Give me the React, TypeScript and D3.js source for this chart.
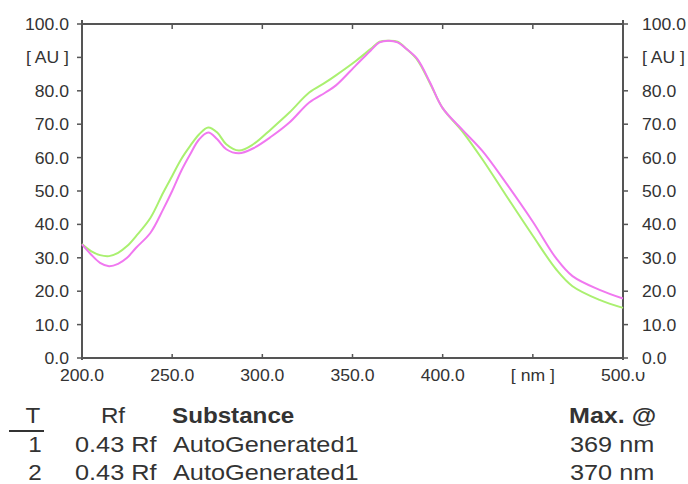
import React from "react";
import * as d3 from "d3";

const wavelengths = [200,205,210,215,220,225,230,238,245,250,255,260,265,270,275,280,287,295,305,315,326,335,341,352,360,365,370,375,380,386,393,400,411,422,435,450,463,472,487,500];
const greenTrack = [34.1,32.0,30.8,30.5,31.5,33.5,36.5,42.0,49.5,54.5,59.5,63.5,67.0,69.0,67.5,64.0,62.1,64.0,68.6,73.5,79.5,82.5,84.7,89.0,92.5,94.7,95.0,94.7,92.5,89.2,82.2,74.8,67.8,59.5,48.8,36.6,26.5,21.5,17.4,15.0];
const magentaTrack = [34.0,31.0,28.5,27.5,28.2,30.0,33.0,37.5,44.5,50.0,56.0,61.0,65.5,67.5,65.5,62.5,61.3,62.8,66.3,70.5,76.5,79.5,81.7,87.7,92.0,94.5,95.0,94.5,92.5,89.5,82.5,74.8,68.3,62.0,52.5,40.8,29.8,24.5,20.4,17.8];

const yTicks = [0,10,20,30,40,50,60,70,80,90,100];
const yTickLabels = ["0.0","10.0","20.0","30.0","40.0","50.0","60.0","70.0","80.0","[ AU ]","100.0"];
const xTicks = [200,250,300,350,400,450,500];
const xTickLabels = ["200.0","250.0","300.0","350.0","400.0","[ nm ]","500.0"];

const tableHeader = ["T","Rf","Substance","Max. @"];
const trackNo = ["1","2"];
const rfValues = ["0.43 Rf","0.43 Rf"];
const substances = ["AutoGenerated1","AutoGenerated1"];
const maxima = ["369 nm","370 nm"];

const W = 688, H = 484;
const L = 82, R = 623, T = 24, B = 358;
const AX = "#555";
const TXT = "#333";
const FONT = "Liberation Sans, Arial, sans-serif";

function SText({x, y, sx = 1.1, anchor = "start", size = 16, weight = "normal", children}: any) {
  return (
    <text transform={`translate(${x},${y}) scale(${sx},1)`} textAnchor={anchor} fontSize={size}
      fontFamily={FONT} fontWeight={weight} fill={TXT}>{children}</text>
  );
}

export default function App() {
  const x = d3.scaleLinear().domain([200, 500]).range([L, R]);
  const y = d3.scaleLinear().domain([0, 100]).range([B, T]);
  const line = (vals: number[]) =>
    d3.line<number>().x((_, i) => x(wavelengths[i])).y(v => y(v)).curve(d3.curveCatmullRom.alpha(0.5))(vals) || "";

  return (
    <svg width={W} height={H} style={{position: "absolute", left: 0, top: 0, background: "#fff"}}>
      <rect x={0} y={0} width={W} height={H} fill="#fff" />
      <line x1={L} x2={R} y1={T} y2={T} stroke={AX} strokeWidth={2} />
      <line x1={L} x2={R} y1={B} y2={B} stroke={AX} strokeWidth={2} />
      <line x1={L} x2={L} y1={T - 4} y2={B + 2} stroke={AX} strokeWidth={2} />
      <line x1={R} x2={R} y1={T - 4} y2={B + 2} stroke={AX} strokeWidth={2} />
      {yTicks.map((t, i) => (
        <g key={"yt" + i}>
          <line x1={L - 5} x2={L} y1={y(t)} y2={y(t)} stroke={AX} strokeWidth={1.5} />
          <line x1={R} x2={R + 5} y1={y(t)} y2={y(t)} stroke={AX} strokeWidth={1.5} />
          <SText x={69} y={y(t) + 6} anchor="end">{yTickLabels[i]}</SText>
          <SText x={642} y={y(t) + 6} anchor="start">{yTickLabels[i]}</SText>
        </g>
      ))}
      {xTicks.map((t, i) => (
        <g key={"xt" + i}>
          <line x1={x(t)} x2={x(t)} y1={T} y2={T + 5} stroke={AX} strokeWidth={1.5} />
          <line x1={x(t)} x2={x(t)} y1={B - 4} y2={B} stroke={AX} strokeWidth={1.5} />
          <SText x={x(t)} y={381} anchor="middle">{xTickLabels[i]}</SText>
        </g>
      ))}
      <rect x={x(500) + 12} y={365} width={12} height={7} fill="#fff" />
      <path d={line(greenTrack)} fill="none" stroke="#aaf070" strokeWidth={2} />
      <path d={line(magentaTrack)} fill="none" stroke="#f078f0" strokeWidth={2} />
      <SText x={33} y={423} anchor="middle" size={22} sx={1.1}>{tableHeader[0]}</SText>
      <line x1={9} x2={44} y1={431} y2={431} stroke={TXT} strokeWidth={2} />
      <SText x={113} y={423} anchor="middle" size={22} sx={1.1}>{tableHeader[1]}</SText>
      <SText x={172} y={423} anchor="start" size={22} weight="bold" sx={1.1}>{tableHeader[2]}</SText>
      <SText x={569} y={423} anchor="start" size={22} weight="bold" sx={1.14}>{tableHeader[3]}</SText>
      {trackNo.map((t, i) => (
        <g key={"row" + i}>
          <SText x={35} y={452 + i * 28} anchor="middle" size={22} sx={1.1}>{t}</SText>
          <SText x={75} y={452 + i * 28} anchor="start" size={22} sx={1.15}>{rfValues[i]}</SText>
          <SText x={173} y={452 + i * 28} anchor="start" size={22} sx={1.15}>{substances[i]}</SText>
          <SText x={570} y={452 + i * 28} anchor="start" size={22} sx={1.15}>{maxima[i]}</SText>
        </g>
      ))}
    </svg>
  );
}
